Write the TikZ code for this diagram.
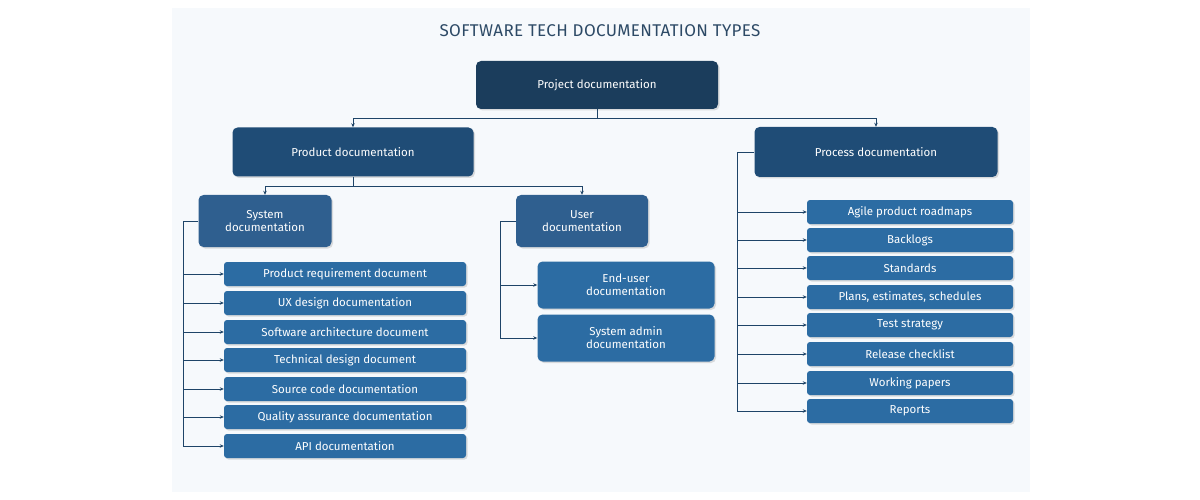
\documentclass[tikz,border=0pt]{standalone}
\usepackage{fontspec}
\setmainfont{Fira Sans}
\usetikzlibrary{shadows,arrows.meta}
\definecolor{cA}{HTML}{1B3D5C}
\definecolor{cB}{HTML}{1F4C76}
\definecolor{cC}{HTML}{2F5F8F}
\definecolor{cD}{HTML}{2C6CA3}
\definecolor{ln}{HTML}{1E4468}
\definecolor{ttl}{HTML}{2D4A66}
\tikzset{
 bx/.style={rounded corners=5pt,text=white,font=\fontsize{11.5}{13}\selectfont,align=center,inner sep=0pt,drop shadow={opacity=0.25,shadow xshift=1.5pt,shadow yshift=-1.5pt}},
 lf/.style={bx,fill=cD,minimum width=242pt,minimum height=24pt,rounded corners=3pt},
 rf/.style={bx,fill=cD,minimum width=206pt,minimum height=24pt,rounded corners=3pt},
 cn/.style={draw=ln,line width=0.9pt,-{Stealth[length=4pt,width=3.5pt]}},
 ln/.style={draw=ln,line width=0.9pt}
}
\begin{document}
\begin{tikzpicture}[x=1pt,y=-1pt]
\useasboundingbox (0,0) rectangle (1200,500);
\fill[white] (0,0) rectangle (1200,500);
\fill[color={rgb,255:red,246;green,249;blue,252}] (172,8) rectangle (1030,492);
\node[text=ttl,font=\fontsize{17}{20}\selectfont\addfontfeature{LetterSpace=2}] (title) at (600,31) {SOFTWARE TECH DOCUMENTATION TYPES};
\node[bx,fill=cA,minimum width=242pt,minimum height=48pt] (proj) at (597,85) {Project documentation};
\node[bx,fill=cB,minimum width=241pt,minimum height=49pt] (prod) at (353,152) {Product documentation};
\node[bx,fill=cB,minimum width=243pt,minimum height=50pt] (proc) at (876,152) {Process documentation};
\node[bx,fill=cC,minimum width=133pt,minimum height=52pt] (sys) at (265,221) {System\\documentation};
\node[bx,fill=cC,minimum width=132pt,minimum height=52pt] (usr) at (582,221) {User\\documentation};
\node[bx,fill=cD,minimum width=177pt,minimum height=47pt] (eu) at (626,285) {End-user\\documentation};
\node[bx,fill=cD,minimum width=177pt,minimum height=47pt] (sa) at (626,338) {System admin\\documentation};
\foreach \i/\y/\t in {1/274/Product requirement document,2/303/UX design documentation,3/332/Software architecture document,4/360/Technical design document,5/389/Source code documentation,6/417/Quality assurance documentation,7/446/API documentation}
 \node[lf] (l\i) at (345,\y) {\t};
\foreach \i/\y/\t in {1/212/Agile product roadmaps,2/240/Backlogs,3/268/Standards,4/297/{Plans, estimates, schedules},5/325/Test strategy,6/354/Release checklist,7/383/Working papers,8/411/Reports}
 \node[rf] (r\i) at (910,\y) {\t};
\coordinate (pj) at (597,118);
\draw[ln] (proj.south) -- (pj);
\draw[cn] (pj) -| (prod.north);
\draw[cn] (pj) -| (proc.north);
\coordinate (pd) at (353,186);
\draw[ln] (prod.south) -- (pd);
\draw[cn] (pd) -| (sys.north);
\draw[cn] (pd) -| (usr.north);
\coordinate (sx) at (183,221);
\draw[ln] (sys.west) -- (sx) -- (183,446);
\foreach \i in {1,...,7} \draw[cn] (sx |- l\i) -- (l\i.west);
\coordinate (ux) at (500,221);
\draw[ln] (usr.west) -- (ux) -- (500,338);
\draw[cn] (ux |- eu) -- (eu.west);
\draw[cn] (ux |- sa) -- (sa.west);
\coordinate (px) at (737,152);
\draw[ln] (proc.west) -- (px) -- (737,411);
\foreach \i in {1,...,8} \draw[cn] (px |- r\i) -- (r\i.west);
\end{tikzpicture}
\end{document}
